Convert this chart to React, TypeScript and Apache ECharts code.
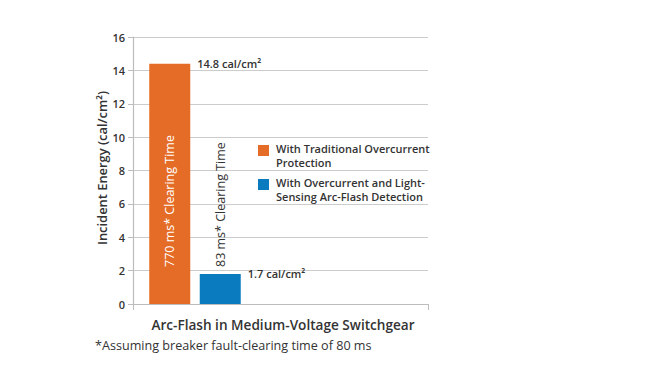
import React, { useEffect, useRef } from "react";
import * as echarts from "echarts";

const categories = ["Traditional", "Light-Sensing"];
const seriesNames = [
  "With Traditional Overcurrent\nProtection",
  "With Overcurrent and Light-\nSensing Arc-Flash Detection",
];
const barValues = [14.4, 1.8];
const valueLabels = ["14.8 cal/cm²", "1.7 cal/cm²"];
const clearingLabels = ["770 ms* Clearing Time", "83 ms* Clearing Time"];
const barColors = ["#E56C26", "#0B7BC0"];
const clearingColors = ["#ffffff", "#333333"];
const yTicks = [0, 2, 4, 6, 8, 10, 12, 14, 16];
const xTitle = "Arc-Flash in Medium-Voltage Switchgear";
const yTitle = "Incident Energy (cal/cm²)";
const footnote = "*Assuming breaker fault-clearing time of 80 ms";

const FONT = "'Open Sans', 'DejaVu Sans', sans-serif";

export default function App() {
  const ref = useRef<HTMLDivElement>(null);
  useEffect(() => {
    if (!ref.current) return;
    const chart = echarts.init(ref.current, undefined, { renderer: "svg" });
    const yMin = yTicks[0];
    const yMax = yTicks[yTicks.length - 1];
    const interval = yTicks[1] - yTicks[0];
    const legendTops = [141, 175];
    chart.setOption({
      animation: false,
      textStyle: { fontFamily: FONT },
      grid: [
        { left: 133, right: 232, top: 37, bottom: 63 },
        { left: 144.5, width: 101, top: 37, bottom: 63 },
      ],
      xAxis: [
        {
          gridIndex: 0,
          type: "category",
          data: [""],
          boundaryGap: true,
          name: xTitle,
          nameLocation: "middle",
          nameGap: 13,
          nameTextStyle: { fontFamily: FONT, fontWeight: 600, fontSize: 13.6, color: "#333", verticalAlign: "top", padding: [0, 0, 0, 5] },
          axisLine: { show: true, lineStyle: { color: "#bdbdbd", width: 1.2 } },
          axisTick: { show: true, length: 6, lineStyle: { color: "#bdbdbd" } },
          axisLabel: { show: false },
        },
        {
          gridIndex: 1,
          type: "category",
          data: categories,
          show: false,
        },
      ],
      yAxis: [
        {
          gridIndex: 0,
          type: "value",
          min: yMin,
          max: yMax,
          interval,
          name: yTitle,
          nameLocation: "middle",
          nameGap: 19,
          nameTextStyle: { fontFamily: FONT, fontWeight: 600, fontSize: 12.9, color: "#333", padding: [0, 0, 0, 5] },
          axisLine: { show: true, lineStyle: { color: "#bdbdbd", width: 1.2 } },
          axisTick: { show: true, length: 5, lineStyle: { color: "#bdbdbd" } },
          axisLabel: { fontSize: 11, fontWeight: 600, color: "#333", margin: 8, fontFamily: FONT },
          splitLine: { show: true, lineStyle: { color: "#cccccc", width: 1.2 } },
        },
        {
          gridIndex: 1,
          type: "value",
          min: yMin,
          max: yMax,
          interval,
          show: false,
          splitLine: { show: false },
        },
      ],
      series: [
        {
          type: "bar",
          xAxisIndex: 1,
          yAxisIndex: 1,
          barWidth: 41,
          data: barValues.map((v, i) => ({
            value: v,
            itemStyle: { color: barColors[i] },
            label: {
              show: true,
              formatter: valueLabels[i],
              position: ["100%", 0],
              offset: [7, 0],
              align: "left",
              verticalAlign: "middle",
              fontSize: 11,
              fontWeight: 600,
              color: "#333",
              fontFamily: FONT,
            },
          })),
        },
        {
          type: "bar",
          xAxisIndex: 1,
          yAxisIndex: 1,
          barWidth: 41,
          barGap: "-100%",
          silent: true,
          itemStyle: { color: "rgba(0,0,0,0)" },
          data: barValues.map((v, i) => ({
            value: v,
            label: {
              show: true,
              formatter: clearingLabels[i],
              position: ["50%", "100%"],
              offset: [37, 0],
              rotate: 90,
              align: "left",
              verticalAlign: "middle",
              fontSize: 12.5,
              fontWeight: 500,
              color: clearingColors[i],
              fontFamily: FONT,
            },
          })),
        },
      ],
      graphic: [
        ...seriesNames.flatMap((name, i) => [
          {
            type: "rect",
            left: 258,
            top: legendTops[i] + 4,
            shape: { width: 11, height: 11 },
            style: { fill: barColors[i] },
          },
          {
            type: "text",
            left: 276,
            top: legendTops[i],
            style: {
              text: name,
              fontSize: 11,
              fontWeight: 600,
              lineHeight: 14,
              fill: "#333",
              fontFamily: FONT,
            },
          },
        ]),
        {
          type: "text",
          left: 95,
          top: 339,
          style: { text: footnote, fontSize: 12.6, fill: "#333", fontFamily: FONT },
        },
      ],
    });
    return () => chart.dispose();
  }, []);
  return (
    <div
      ref={ref}
      style={{ position: "fixed", left: 0, top: 0, width: 660, height: 367, background: "#fff" }}
    />
  );
}
